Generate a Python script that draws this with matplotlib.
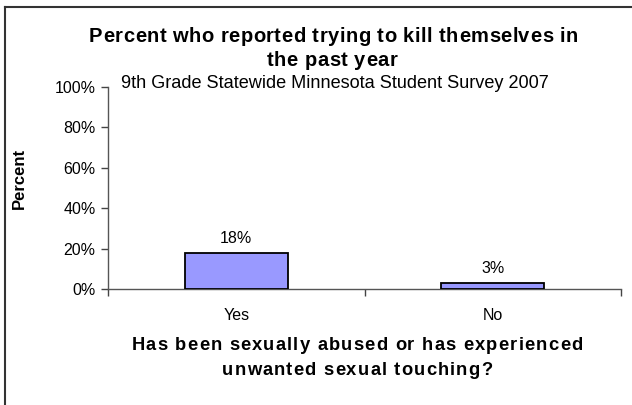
import matplotlib
matplotlib.use("Agg")
import matplotlib.pyplot as plt
from matplotlib.lines import Line2D

plt.rcParams['font.family'] = ['Liberation Sans', 'DejaVu Sans']

# données
categories = ["Yes", "No"]
values = [18, 3]
bar_labels = ["18%", "3%"]
y_ticks = [0, 20, 40, 60, 80, 100]
y_tick_labels = ["0%", "20%", "40%", "60%", "80%", "100%"]

title_l1 = "Percent who reported trying to kill themselves in"
title_l2 = "the past year"
subtitle = "9th Grade Statewide Minnesota Student Survey 2007"
xlabel_l1 = "Has been sexually abused or has experienced"
xlabel_l2 = "unwanted sexual touching?"

W, H = 632, 405
fig = plt.figure(figsize=(W / 100, H / 100), dpi=100)
ax = fig.add_axes([108 / W, 1 - 289 / H, (621 - 108) / W, (289 - 87) / H])

x = list(range(len(categories)))
ax.bar(x, values, width=0.4, color="#9999FF", edgecolor="black", linewidth=1.3, zorder=3)
for xi, v, lab in zip(x, values, bar_labels):
    ax.annotate(lab, (xi, v), xytext=(0, 5), textcoords="offset points",
                ha="center", va="bottom", fontsize=11.5)

ax.set_xlim(-0.5, 1.5)
ax.set_ylim(0, 100)
ax.set_yticks(y_ticks)
ax.set_yticklabels(y_tick_labels, fontsize=11.5)
ax.set_xticks(x)
ax.set_xticklabels(categories, fontsize=11.5)
ax.set_xticks([-0.5, 0.5, 1.5], minor=True)
ax.tick_params(axis="x", which="major", length=0, pad=14)
ax.tick_params(axis="x", which="minor", length=5, width=1, color="#444444", direction="out")
ax.tick_params(axis="y", length=5, width=1, color="#444444", direction="out", pad=4)

for side in ["top", "right"]:
    ax.spines[side].set_visible(False)
for side in ["left", "bottom"]:
    ax.spines[side].set_color("#555555")
    ax.spines[side].set_linewidth(1.0)

renderer = fig.canvas.get_renderer()


def text_w(s, size):
    t = fig.text(0, 0, s, fontsize=size, fontweight="bold")
    w = t.get_window_extent(renderer=renderer).width
    t.remove()
    return w


def advances(s, size):
    ref = text_w("||", size)
    return [text_w("|" + c + "|", size) - ref for c in s]


def spaced_text(s, cx, baseline, size, gap):
    # texte gras avec espacement des lettres (comme dans l'original)
    adv = advances(s, size)
    total = sum(adv) + gap * (len(s) - 1)
    xpos = cx - total / 2
    for c, a in zip(s, adv):
        if c != " ":
            fig.text(xpos / W, 1 - baseline / H, c, fontsize=size, fontweight="bold",
                     ha="left", va="baseline")
        xpos += a + gap


def gap_for(s, size, target):
    return (target - sum(advances(s, size))) / (len(s) - 1)


# titre
g_title = gap_for(title_l1, 14.5, 489)
spaced_text(title_l1, 333.5, 42, 14.5, g_title)
spaced_text(title_l2, 332, 66, 14.5, g_title)

# sous-titre
st = fig.text(334.5 / W, 1 - 84 / H, subtitle, ha="center", va="center", fontsize=13)
w = st.get_window_extent(renderer=renderer).width
st.set_fontsize(13 * 427 / w)

# titre de l'axe x
g_x = gap_for(xlabel_l1, 13.2, 451)
spaced_text(xlabel_l1, 357, 350, 13.2, g_x)
spaced_text(xlabel_l2, 357, 375, 13.2, g_x)

fig.text(19 / W, 1 - 178 / H, "Percent", ha="center", va="center", rotation=90,
         fontsize=12, fontweight="bold")

# cadre du graphique (bord gauche et haut)
fig.add_artist(Line2D([5 / W, 5 / W], [0, 1 - 7 / H], color="#333333", linewidth=1.5))
fig.add_artist(Line2D([5 / W, 1], [1 - 7 / H, 1 - 7 / H], color="#333333", linewidth=1.5))

fig.savefig("out.png", dpi=100)
